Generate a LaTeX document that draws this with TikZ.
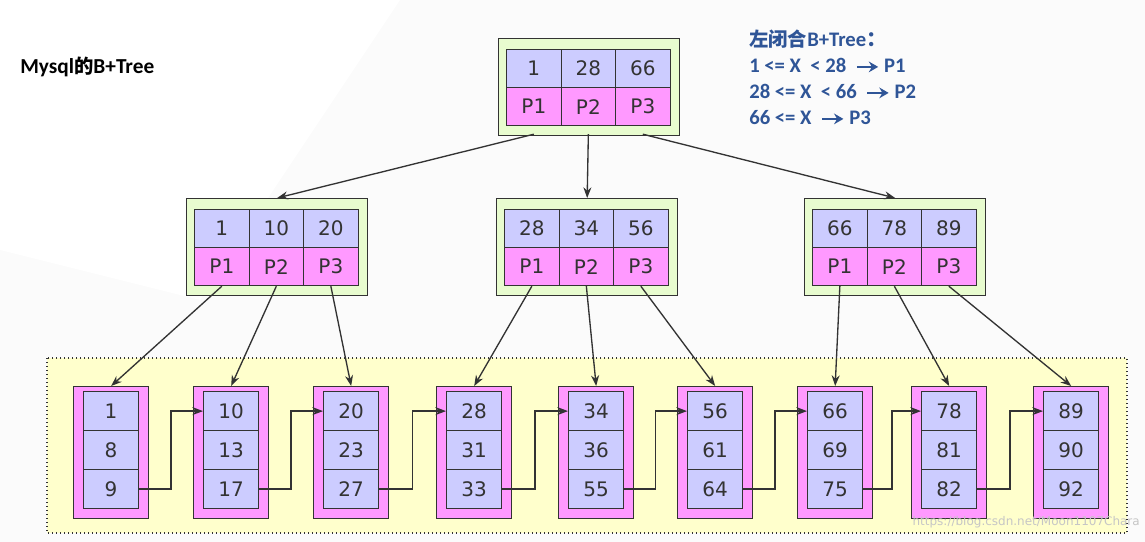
\documentclass[tikz,border=0pt]{standalone}
\usepackage{fontspec}
\setmainfont{DejaVu Sans}
\newfontfamily\cjk{Noto Sans CJK SC}
\newfontfamily\carl{Carlito}
\usetikzlibrary{arrows.meta,calc}
\definecolor{lav}{HTML}{CCCCFF}
\definecolor{pnk}{HTML}{FF99FF}
\definecolor{grn}{HTML}{E8FCCF}
\definecolor{yel}{HTML}{FFFFCC}
\definecolor{ln}{HTML}{333333}
\definecolor{blu}{HTML}{2F5597}
\newlength\pxu \setlength\pxu{0.75pt}
\tikzset{
 cell/.style={draw=ln,line width=0.9pt,minimum width=54.5\pxu,minimum height=38\pxu,inner sep=0pt,font=\fontsize{15}{15}\selectfont,text=ln,anchor=north west},
 lcell/.style={cell,fill=lav,minimum width=55\pxu,minimum height=39\pxu},
 arr/.style={draw=ln,line width=1pt,-{Stealth[length=8pt,width=6pt]}},
}
\newcommand\inode[6]{%
 \node[draw=ln,line width=1pt,fill=grn,minimum width=181\pxu,minimum height=97\pxu,anchor=north west,inner sep=0pt] (#1) at (#2,#3) {};
 \node[cell,fill=lav] (#1k1) at (#2+8,#3+11) {#4};
 \node[cell,fill=lav] (#1k2) at (#2+62.5,#3+11) {#5};
 \node[cell,fill=lav] (#1k3) at (#2+117,#3+11) {#6};
 \node[cell,fill=pnk] (#1p1) at (#2+8,#3+49) {P1};
 \node[cell,fill=pnk] (#1p2) at (#2+62.5,#3+49) {P2};
 \node[cell,fill=pnk] (#1p3) at (#2+117,#3+49) {P3};
}
\newcommand\leaf[5]{%
 \node[draw=ln,line width=1pt,fill=pnk,minimum width=75\pxu,minimum height=132\pxu,anchor=north west,inner sep=0pt] (#1) at (#2,386) {};
 \node[lcell] (#1a) at (#2+10,391) {#3};
 \node[lcell] (#1b) at (#2+10,430) {#4};
 \node[lcell] (#1c) at (#2+10,469) {#5};
}
\newcommand\rarr{\tikz[baseline=-0.6ex]\draw[line width=1.8pt,-{Stealth[length=7pt,width=8pt]}] (0,0)--(16pt,0);}
\begin{document}
\begin{tikzpicture}[x=0.75pt,y=-0.75pt]
\useasboundingbox (0,0) rectangle (1145,542);
\fill[white!97!gray] (0,0) rectangle (1145,542);
\fill[white] (0,0) -- (400,0) -- (200,300) -- (0,250) -- cycle;
\node[font=\carl\bfseries\fontsize{16}{16}\selectfont,anchor=west,inner sep=0pt] (title) at (20,67) {Mysql{\cjk\bfseries\fontsize{14.5}{14.5}\selectfont 的}B+Tree};
\node[font=\carl\bfseries\fontsize{15.5}{19.5}\selectfont,text=blu,anchor=north west,align=left,inner sep=0pt] (rule) at (749,30)
 {{\cjk\bfseries\fontsize{14.5}{14.5}\selectfont 左闭合}B+Tree{\cjk ：}\\1 <= X \ < 28 \ \rarr{} P1\\28 <= X \ < 66 \ \rarr{} P2\\66 <= X \ \rarr{} P3};
\draw[ln,fill=yel,line width=1pt,dotted] (47,358) rectangle (1127,533);
\inode{r}{498}{38}{1}{28}{66}
\inode{a}{186}{198}{1}{10}{20}
\inode{b}{496}{198}{28}{34}{56}
\inode{c}{804}{198}{66}{78}{89}
\leaf{l1}{73}{1}{8}{9}
\leaf{l2}{193}{10}{13}{17}
\leaf{l3}{313}{20}{23}{27}
\leaf{l4}{436}{28}{31}{33}
\leaf{l5}{558}{34}{36}{55}
\leaf{l6}{677}{56}{61}{64}
\leaf{l7}{797}{66}{69}{75}
\leaf{l8}{911}{78}{81}{82}
\leaf{l9}{1033}{89}{90}{92}
\draw[arr] (rp1.south) ++(0,8) coordinate (t1) (t1) -- (a.north);
\draw[arr] (rp2.south) ++(0,8) coordinate (t2) (t2) -- (b.north);
\draw[arr] (rp3.south) ++(0,8) coordinate (t3) (t3) -- (c.north);
\foreach \n/\i/\j/\k in {a/1/2/3,b/4/5/6,c/7/8/9}{
 \draw[arr] (\n p1.south) -- (l\i.north);
 \draw[arr] (\n p2.south) -- (l\j.north);
 \draw[arr] (\n p3.south) -- (l\k.north);
}
\foreach \i/\j in {1/2,2/3,3/4,4/5,5/6,6/7,7/8,8/9}{
 \draw[arr] (l\i c.east) -| ($(l\i c.east)!0.5!(l\j a.west)$) |- (l\j a.west);
}
\node[text=gray!45,font=\fontsize{9}{9}\selectfont,anchor=south east,inner sep=0pt] (wm) at (1140,528) {https://blog.csdn.net/Moon1107Chara};
\end{tikzpicture}
\end{document}
